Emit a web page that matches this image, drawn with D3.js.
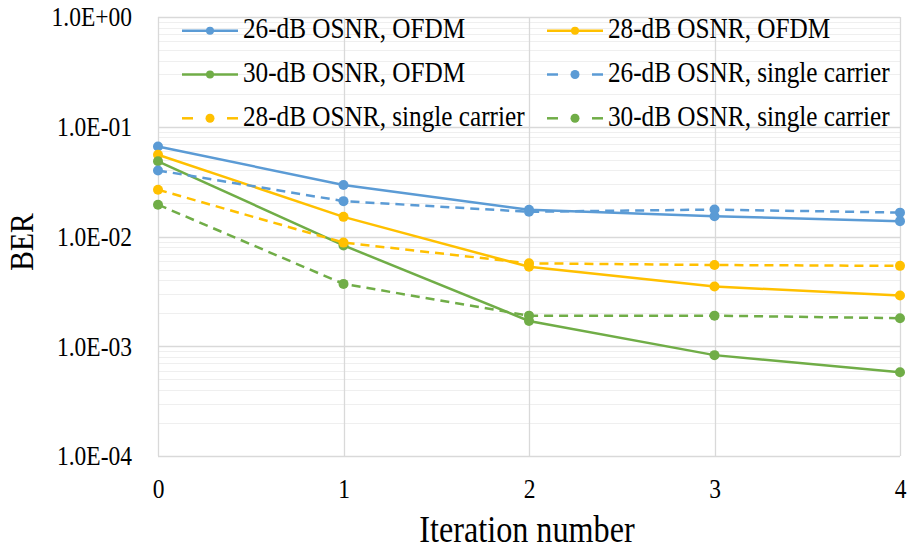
<!DOCTYPE html>
<html>
<head>
<meta charset="utf-8">
<script src="https://cdn.jsdelivr.net/npm/d3@7"></script>
<style>
  body { margin: 0; background: #fff; }
  svg text { font-family: "Liberation Serif", "Times New Roman", serif; fill: #000; }
</style>
</head>
<body>
<svg id="chart" width="907" height="550"></svg>
<script>
// Iterations on the x axis
const iterations = [0, 1, 2, 3, 4];

// BER per iteration for each OSNR / modulation case
const ofdm26 = [0.066, 0.0295, 0.0175, 0.0153, 0.0138];
const ofdm28 = [0.0556, 0.0151, 0.0053, 0.0035, 0.0029];
const ofdm30 = [0.0484, 0.0083, 0.0017, 0.00083, 0.00058];
const sc26 = [0.040, 0.021, 0.0168, 0.0176, 0.0165];
const sc28 = [0.0267, 0.0088, 0.0057, 0.0055, 0.0054];
const sc30 = [0.0195, 0.0037, 0.0019, 0.0019, 0.0018];

const seriesNames = [
  "26-dB OSNR, OFDM", "28-dB OSNR, OFDM",
  "30-dB OSNR, OFDM", "26-dB OSNR, single carrier",
  "28-dB OSNR, single carrier", "30-dB OSNR, single carrier"
];
const seriesValues = [ofdm26, ofdm28, ofdm30, sc26, sc28, sc30];
const seriesColors = ["#5B9BD5", "#FFC000", "#70AD47", "#5B9BD5", "#FFC000", "#70AD47"];
const seriesDashed = [false, false, false, true, true, true];

const yTickValues = [1, 0.1, 0.01, 0.001, 0.0001];
const yTickLabels = ["1.0E+00", "1.0E-01", "1.0E-02", "1.0E-03", "1.0E-04"];

const svg = d3.select("#chart");
const plot = { left: 158, right: 900, top: 17, bottom: 456 };

const x = d3.scaleLinear().domain([0, 4]).range([plot.left, plot.right]);
const y = d3.scaleLog().domain([1e-4, 1]).range([plot.bottom, plot.top]);

// Narrow the glyphs a little, like a condensed Times face:
// scale horizontally and divide the x position so the anchor stays put
const squeeze = 0.87;
function condense(sel) {
  sel.each(function () {
    const t = d3.select(this);
    const x0 = +t.attr("x") || 0;
    const prev = t.attr("transform") || "";
    t.attr("x", x0 / squeeze).attr("transform", `${prev} scale(${squeeze},1)`);
  });
}

// Minor gridlines (2..9 within each decade)
const minor = [];
for (let e = -4; e < 0; e++) {
  for (let m = 2; m <= 9; m++) minor.push(m * Math.pow(10, e));
}
svg.append("g").selectAll("line").data(minor).join("line")
  .attr("x1", plot.left).attr("x2", plot.right)
  .attr("y1", d => Math.round(y(d)) + 0.5).attr("y2", d => Math.round(y(d)) + 0.5)
  .attr("stroke", "#efefef").attr("stroke-width", 1);

// Major gridlines
svg.append("g").selectAll("line").data(yTickValues).join("line")
  .attr("x1", plot.left).attr("x2", plot.right)
  .attr("y1", d => Math.round(y(d)) + 0.5).attr("y2", d => Math.round(y(d)) + 0.5)
  .attr("stroke", "#d9d9d9").attr("stroke-width", 1.3);

// Vertical gridlines at each iteration
svg.append("g").selectAll("line").data(iterations).join("line")
  .attr("x1", d => Math.round(x(d)) + 0.5).attr("x2", d => Math.round(x(d)) + 0.5)
  .attr("y1", plot.top).attr("y2", plot.bottom)
  .attr("stroke", "#d9d9d9").attr("stroke-width", 1.3);

// Y axis labels
const yAxis = d3.axisLeft(y).tickValues(yTickValues)
  .tickFormat((d, i) => yTickLabels[i]).tickSize(0).tickPadding(26);
const gy = svg.append("g").attr("transform", `translate(${plot.left},0)`).call(yAxis);
gy.attr("font-family", null).attr("font-size", null);
gy.select(".domain").remove();
gy.selectAll("text").style("font-size", "27px").attr("dy", "0.33em").call(condense);

// X axis labels
const xAxis = d3.axisBottom(x).tickValues(iterations).tickFormat(d3.format("d")).tickSize(0).tickPadding(23);
const gx = svg.append("g").attr("transform", `translate(0,${plot.bottom})`).call(xAxis);
gx.attr("font-family", null).attr("font-size", null);
gx.select(".domain").remove();
gx.selectAll("text").style("font-size", "27px").attr("dy", "0.71em").call(condense);

// Axis titles
svg.append("text").attr("x", 527).attr("y", 542.5)
  .attr("text-anchor", "middle").style("font-size", "37px").text("Iteration number").call(condense);
svg.append("text").attr("transform", `translate(33,242) rotate(-90)`)
  .attr("text-anchor", "middle").style("font-size", "34px").text("BER").call(condense);

// Series lines and markers
const line = d3.line().x((d, i) => x(iterations[i])).y(d => y(d));
seriesValues.forEach((vals, s) => {
  const g = svg.append("g");
  g.append("path").datum(vals).attr("d", line)
    .attr("fill", "none").attr("stroke", seriesColors[s]).attr("stroke-width", 2.5)
    .attr("stroke-dasharray", seriesDashed[s] ? "9,6" : null);
  g.selectAll("circle").data(vals).join("circle")
    .attr("cx", (d, i) => x(iterations[i])).attr("cy", d => y(d)).attr("r", 5)
    .attr("fill", seriesColors[s]);
});

// Legend (two columns, three rows)
const legend = svg.append("g");
seriesNames.forEach((name, i) => {
  const col = i % 2, row = Math.floor(i / 2);
  const lx = col === 0 ? 182 : 547;
  const ly = 30.7 + row * 43.8;
  const g = legend.append("g").attr("transform", `translate(${lx},${ly})`);
  if (seriesDashed[i]) {
    g.append("line").attr("x1", 0).attr("x2", 11).attr("y1", 0).attr("y2", 0)
      .attr("stroke", seriesColors[i]).attr("stroke-width", 2.5);
    g.append("line").attr("x1", 45).attr("x2", 56).attr("y1", 0).attr("y2", 0)
      .attr("stroke", seriesColors[i]).attr("stroke-width", 2.5);
  } else {
    g.append("line").attr("x1", 0).attr("x2", 56).attr("y1", 0).attr("y2", 0)
      .attr("stroke", seriesColors[i]).attr("stroke-width", 2.5);
  }
  g.append("circle").attr("cx", 28).attr("cy", 0).attr("r", seriesDashed[i] ? 4.5 : 4)
    .attr("fill", seriesColors[i]);
  g.append("text").attr("x", 61).attr("y", 7.6)
    .style("font-size", "29px").text(name).call(condense);
});
</script>
</body>
</html>
